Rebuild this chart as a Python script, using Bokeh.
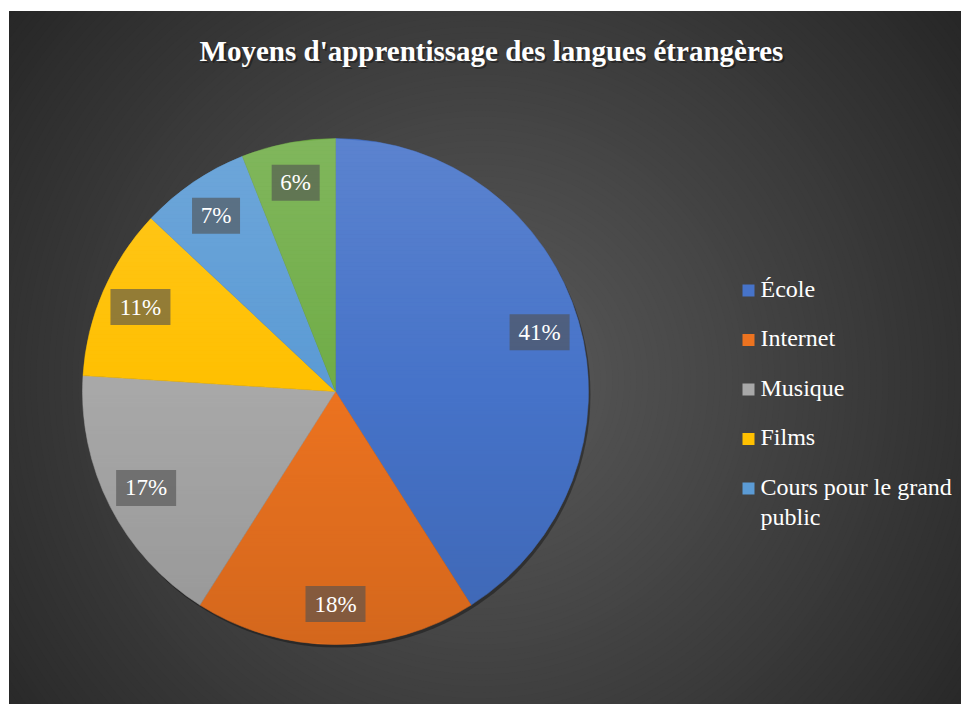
import math
from bokeh.plotting import figure
from bokeh.models import ColumnDataSource, Range1d
from bokeh.core.properties import value
from bokeh.embed import file_html
from bokeh.resources import INLINE

# ---- data ----
title_text = "Moyens d'apprentissage des langues étrangères"
categories = ["École", "Internet", "Musique", "Films", "Cours pour le grand public", "Autres"]
values = [41, 18, 17, 11, 7, 6]
colors = ["#4673C9", "#EC7320", "#A8A8A8", "#FFC000", "#5B9BD5", "#70AD47"]
legend_labels = ["École", "Internet", "Musique", "Films", "Cours pour le grand\npublic"]

W, H = 961, 704
FW, FH = 952, 693
FONT = "'Liberation Serif', 'Times New Roman', serif"

p = figure(width=W, height=H, output_backend="svg", toolbar_location=None,
           x_range=Range1d(0, FW), y_range=Range1d(0, FH),
           min_border_left=9, min_border_top=11, min_border_right=0, min_border_bottom=0)
p.axis.visible = False
p.grid.visible = False
p.outline_line_color = None
p.background_fill_color = "#262626"
p.border_fill_color = "white"

def py(page_y):
    return 704 - page_y

def px(page_x):
    return page_x - 9

# ---- radial background gradient ----
gcx, gcy = px(480), py(380)
rads, gcols = [], []
for d in range(660, 0, -6):
    v = int(max(34, min(92, 92 - 0.087 * d)))
    rads.append(d)
    gcols.append("#%02x%02x%02x" % (v, v, v))
p.circle(x=[gcx] * len(rads), y=[gcy] * len(rads), radius=rads,
         fill_color=gcols, line_color=None)

# ---- pie ----
cx, cy, r = px(335), py(391), 253
total = sum(values)
starts, ends, mids = [], [], []
a = math.pi / 2
for v in values:
    span = 2 * math.pi * v / total
    starts.append(a - span)
    ends.append(a)
    mids.append(a - span / 2)
    a -= span

# shadow
p.circle(x=[cx + 2], y=[cy - 3], radius=r, fill_color="black", fill_alpha=0.35, line_color=None)

src = ColumnDataSource(dict(start=starts, end=ends, color=colors, cat=categories, val=values))
p.wedge(x=cx, y=cy, radius=r, start_angle="start", end_angle="end",
        fill_color="color", line_color="color", line_width=0.5, source=src)

# subtle vertical shading over the pie (lighter top, darker bottom)
sxs, sys_, scol, salpha = [], [], [], []
step = 4
y = cy + r
while y > cy - r:
    y0, y1 = y, max(y - step, cy - r)
    h0 = math.sqrt(max(r * r - (y0 - cy) ** 2, 0))
    h1 = math.sqrt(max(r * r - (y1 - cy) ** 2, 0))
    ym = (y0 + y1) / 2 - cy
    t = ym / r
    sxs.append([cx - h0, cx + h0, cx + h1, cx - h1])
    sys_.append([y0, y0, y1, y1])
    if t > 0:
        scol.append("white"); salpha.append(0.12 * t)
    else:
        scol.append("black"); salpha.append(0.10 * -t)
    y = y1
p.patches(xs=sxs, ys=sys_, fill_color=scol, fill_alpha=salpha, line_color=None)

# ---- data labels ----
lr = 0.84 * r
lx = [cx + lr * math.cos(m) for m in mids]
ly = [cy + lr * math.sin(m) for m in mids]
ltxt = ["%d%%" % v for v in values]
lw = [48 if v < 10 else 60 for v in values]
p.rect(x=lx, y=ly, width=lw, height=36, fill_color="#505050", fill_alpha=0.62, line_color=None)
p.text(x=lx, y=ly, text=ltxt, text_font=value(FONT), text_font_size="23px",
       text_color="white", text_align="center", text_baseline="middle")

# ---- legend ----
ly0, lstep = 290, 49.5
sq_x = [px(748)] * len(legend_labels)
sq_y = [py(ly0 + i * lstep) for i in range(len(legend_labels))]
p.rect(x=sq_x, y=sq_y, width=12, height=12, fill_color=colors[:len(legend_labels)], line_color=None)
tx = [px(760)] * len(legend_labels)
ty = [py(ly0 + i * lstep) + 15 for i in range(len(legend_labels))]
p.text(x=tx, y=ty, text=legend_labels, text_font=value(FONT), text_font_size="24px",
       text_color="white", text_align="left", text_baseline="top", text_line_height=1.17)

# ---- title ----
p.text(x=[px(491) + 2], y=[py(50) - 2], text=[title_text], text_font=value(FONT),
       text_font_size="29px", text_font_style="bold", text_color="black", text_alpha=0.35,
       text_align="center", text_baseline="middle")
p.text(x=[px(491)], y=[py(50)], text=[title_text], text_font=value(FONT),
       text_font_size="29px", text_font_style="bold", text_color="white",
       text_align="center", text_baseline="middle")

open("out.html", "w").write(file_html(p, INLINE))
